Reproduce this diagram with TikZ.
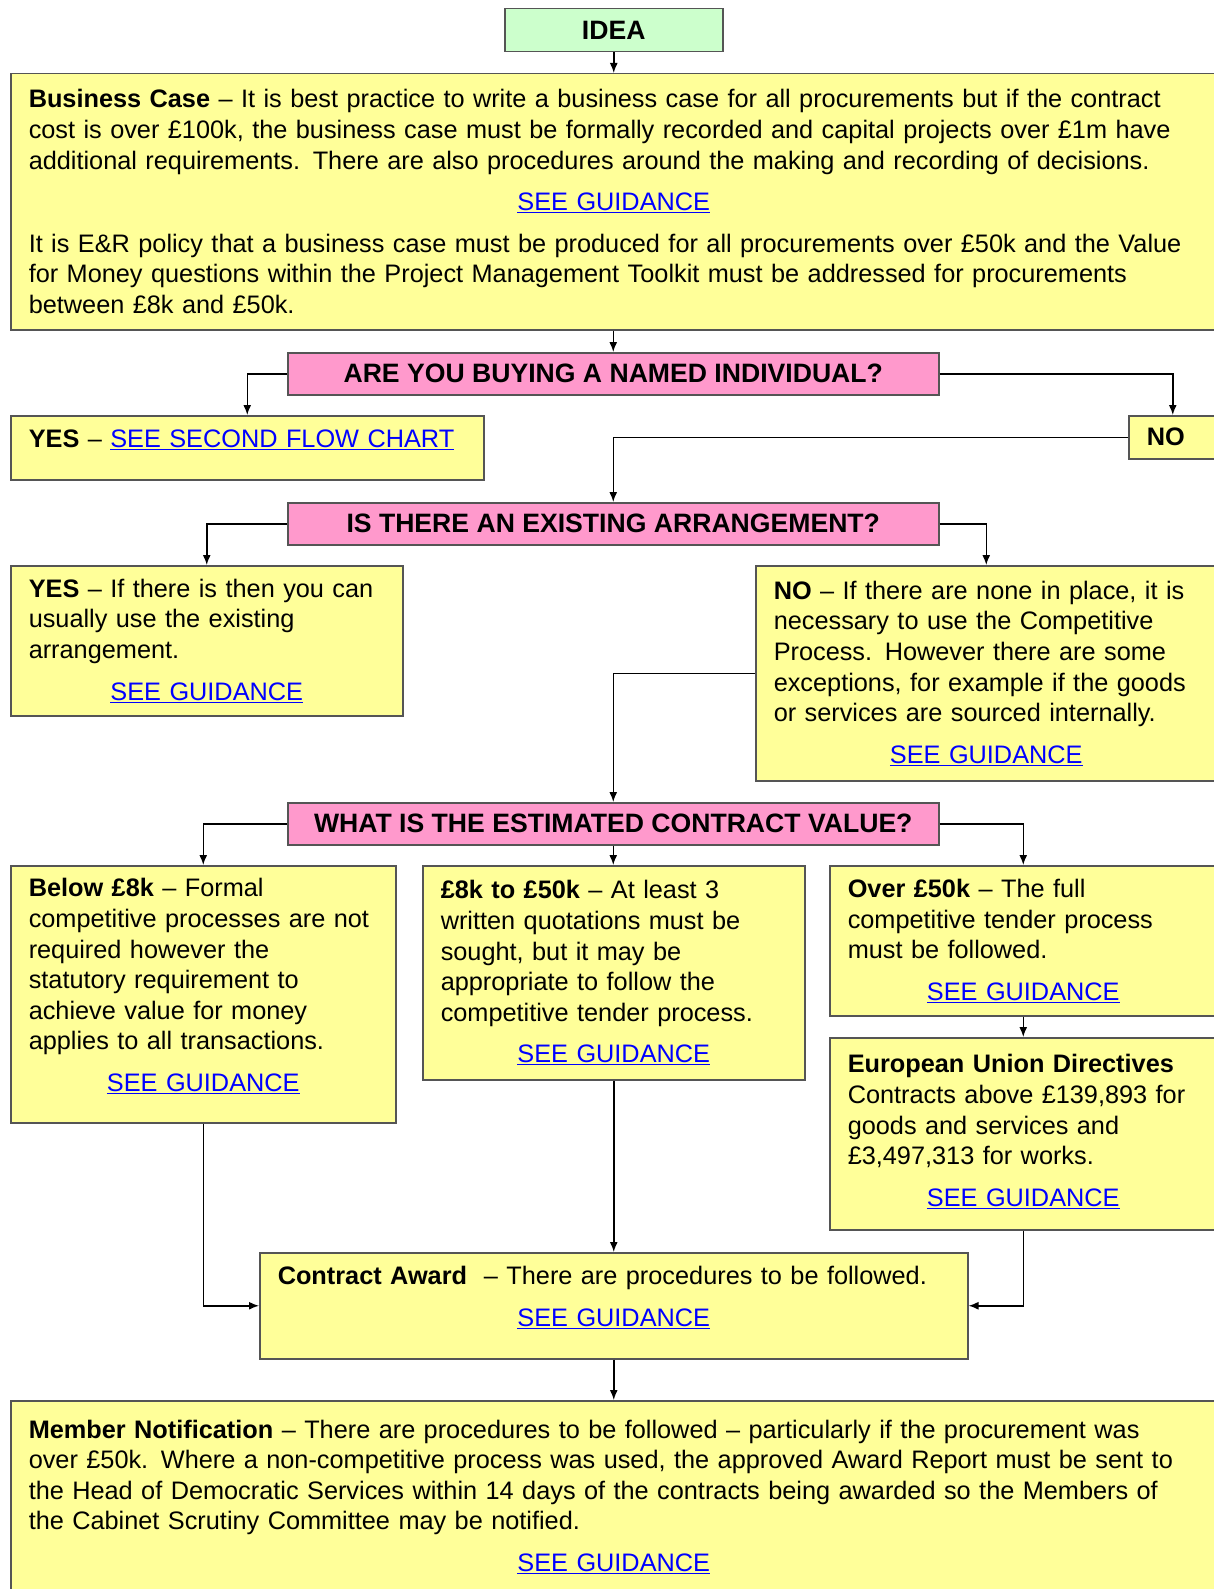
\documentclass[tikz,border=0pt]{standalone}
\usepackage{fontspec}
\setmainfont{Liberation Sans}
\usepackage{xcolor}
\usepackage{tikz}
\usetikzlibrary{positioning, arrows.meta}
\definecolor{boxyellow}{HTML}{FFFF99}
\definecolor{boxpink}{HTML}{FF99CC}
\definecolor{boxgreen}{HTML}{CCFFCC}
\definecolor{linkblue}{HTML}{0000FF}
\definecolor{edgegrey}{HTML}{555555}
\setlength{\parindent}{0pt}
\newcommand{\seeguidance}{\textcolor{linkblue}{\underline{SEE GUIDANCE}}}
\newcommand{\guidanceline}{\makebox[\linewidth]{\seeguidance}}

\begin{document}
\begin{tikzpicture}[x=1pt, y=-1pt, line width=1.5pt, >={Latex[length=10pt,width=8pt]},
	every node/.style={font=\fontsize{25.3}{30.6}\selectfont},
	infobox/.style={draw=edgegrey, fill=boxyellow, anchor=north west, align=left, inner xsep=18pt, inner ysep=2pt},
	question/.style={draw=edgegrey, fill=boxpink, anchor=north west, inner sep=0pt, font=\fontsize{26.6}{30.6}\selectfont\bfseries}]
			\useasboundingbox (0,0) rectangle (1214,1589);
			\draw[black]
			node[question,fill=boxgreen,minimum width=218pt,minimum height=43pt] (idea) at (504, 8){IDEA}
			node[infobox,text width=1170pt,minimum height=256pt] (business_case) at (10, 73){\textbf{Business Case} -- It is best practice to write a business case for all procurements but if the contract\\
cost is over £100k, the business case must be formally recorded and capital projects over £1m have\\
additional requirements.  There are also procedures around the making and recording of decisions.\\[11pt]
\guidanceline\\[11pt]
It is E\&R policy that a business case must be produced for all procurements over £50k and the Value\\
for Money questions within the Project Management Toolkit must be addressed for procurements\\
between £8k and £50k.}
			node[question,minimum width=651pt,minimum height=42pt] (q_named) at (287, 352){ARE YOU BUYING A NAMED INDIVIDUAL?}
			node[infobox,text width=437pt,minimum height=64pt,text depth=18pt] (named_yes) at (10, 415){\textbf{YES} -- \textcolor{linkblue}{\underline{SEE SECOND FLOW CHART}}}
			node[infobox,text width=52pt,minimum height=43pt,font=\fontsize{25.3}{30.6}\selectfont\bfseries] (named_no) at (1128, 415){NO}
			node[question,minimum width=651pt,minimum height=42pt] (q_existing) at (287, 502){IS THERE AN EXISTING ARRANGEMENT?}
			node[infobox,text width=356pt,minimum height=150pt] (existing_yes) at (10, 565){\textbf{YES} -- If there is then you can\\
usually use the existing\\
arrangement.\\[11pt]
\guidanceline}
			node[infobox,text width=425pt,minimum height=215pt] (existing_no) at (755, 565){\textbf{NO} -- If there are none in place, it is\\
necessary to use the Competitive\\
Process.  However there are some\\
exceptions, for example if the goods\\
or services are sourced internally.\\[11pt]
\guidanceline}
			node[question,minimum width=651pt,minimum height=42pt] (q_value) at (287, 802){WHAT IS THE ESTIMATED CONTRACT VALUE?}
			node[infobox,text width=349pt,minimum height=257pt,text depth=213pt] (value_low) at (10, 865){\textbf{Below £8k} -- Formal\\
competitive processes are not\\
required however the\\
statutory requirement to\\
achieve value for money\\
applies to all transactions.\\[11pt]
\guidanceline}
			node[infobox,text width=346pt,minimum height=214pt] (value_mid) at (422, 865){\textbf{£8k to £50k} -- At least 3\\
written quotations must be\\
sought, but it may be\\
appropriate to follow the\\
competitive tender process.\\[11pt]
\guidanceline}
			node[infobox,text width=351pt,minimum height=150pt] (value_high) at (829, 865){\textbf{Over £50k} -- The full\\
competitive tender process\\
must be followed.\\[11pt]
\guidanceline}
			node[infobox,text width=351pt,minimum height=192pt,text depth=140pt] (eu_directives) at (829, 1037){\textbf{European Union Directives}\\
Contracts above £139,893 for\\
goods and services and\\
£3,497,313 for works.\\[11pt]
\guidanceline}
			node[infobox,text width=672pt,minimum height=106pt,text depth=60pt] (contract_award) at (259, 1252){\textbf{Contract Award}~ -- There are procedures to be followed.\\[11pt]
\guidanceline}
			node[infobox,text width=1170pt,minimum height=192pt] (member_notification) at (10, 1400){\textbf{Member Notification} -- There are procedures to be followed -- particularly if the procurement was\\
over £50k.  Where a non-competitive process was used, the approved Award Report must be sent to\\
the Head of Democratic Services within 14 days of the contracts being awarded so the Members of\\
the Cabinet Scrutiny Committee may be notified.\\[11pt]
\guidanceline};
			\draw [->] (idea) -- (idea |- business_case.north);
			\draw [->] (business_case.south -| q_named) -- (q_named);
			\draw [->] (q_named.west) -| (named_yes);
			\draw [->] (q_named.east) -| (named_no);
				\draw [->] (named_no.west) -| (q_existing);
			\draw [->] (q_existing.west) -| (existing_yes);
			\draw [->] (q_existing.east) -| (existing_no);
				\draw [->] (existing_no.west) -| (q_value);
			\draw [->] (q_value.west) -| (value_low);
			\draw [->] (q_value.south) -- (q_value.south |- value_mid.north);
			\draw [->] (q_value.east) -| (value_high);
				\draw [->] (value_high) -- (eu_directives);
			\draw [->] (value_low) |- (contract_award);
			\draw [->] (value_mid) -- (contract_award);
			\draw [->] (eu_directives) |- (contract_award);
				\draw [->] (contract_award) -- (member_notification);
		\end{tikzpicture}
\end{document}
